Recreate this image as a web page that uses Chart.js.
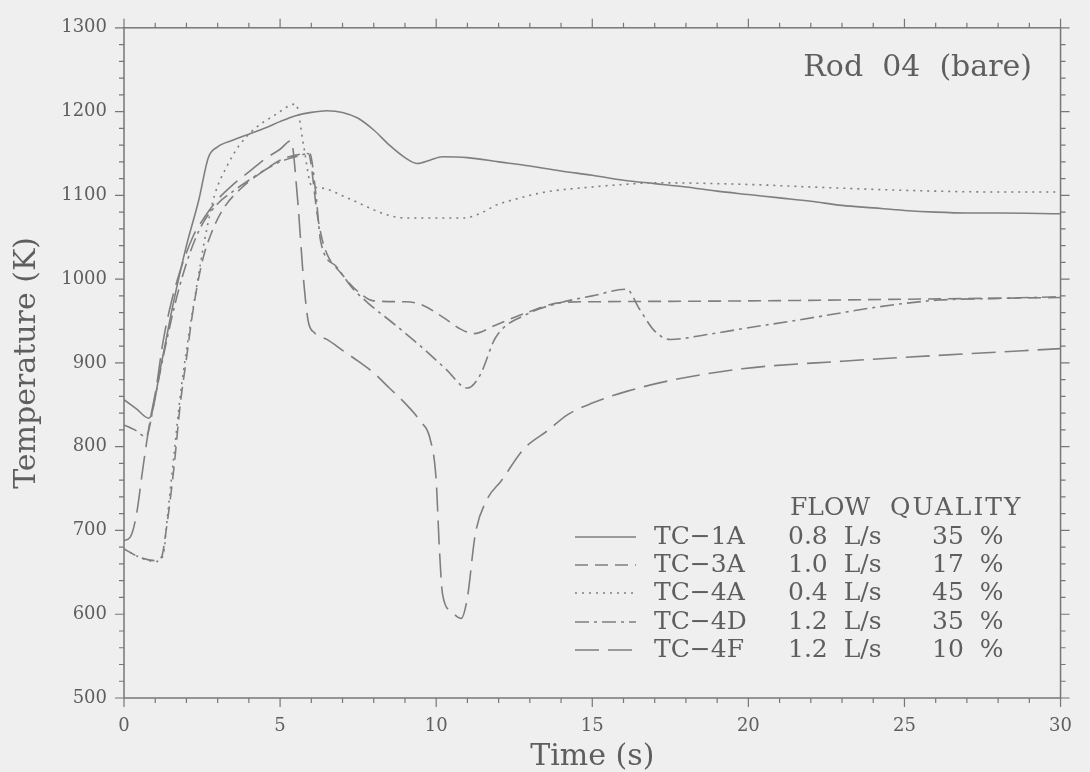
<!DOCTYPE html>
<html>
<head>
<meta charset="utf-8">
<script src="https://cdn.jsdelivr.net/npm/chart.js@4/dist/chart.umd.min.js"></script>
<style>
  html, body { margin: 0; padding: 0; background: #efefef; }
  #wrap { width: 1090px; height: 772px; }
</style>
</head>
<body>
<div id="wrap"><canvas id="chart" width="1090" height="772"></canvas></div>
<script>
// series data: time (s) and temperature (K)
const names = ['TC\u22121A', 'TC\u22123A', 'TC\u22124A', 'TC\u22124D', 'TC\u22124F'];
const flows = ['0.8  L/s', '1.0  L/s', '0.4  L/s', '1.2  L/s', '1.2  L/s'];
const qualities = ['35  %', '17  %', '45  %', '35  %', '10  %'];

const tc1aTime = [0, 0.4, 0.8, 1.2, 1.6, 2.0, 2.4, 2.7, 3.0, 3.5, 4.0, 4.5, 5.0, 5.5, 6.0, 6.5, 7.0, 7.5, 8.0, 8.5, 9.0, 9.4, 9.8, 10.2, 11, 12, 13, 14, 15, 16, 17, 18, 19, 20, 21, 22, 23, 24, 25, 26, 27, 28, 30];
const tc1aTemp = [856, 845, 834, 900, 975, 1040, 1095, 1145, 1158, 1166, 1173, 1180, 1188, 1195, 1199, 1201, 1199, 1192, 1178, 1160, 1145, 1138, 1142, 1146, 1145, 1140, 1135, 1129, 1124, 1118, 1114, 1110, 1105, 1101, 1097, 1093, 1088, 1085, 1082, 1080, 1079, 1079, 1078];

const tc3aTime = [0, 0.5, 1.0, 1.2, 1.35, 1.6, 1.8, 2.0, 2.2, 2.5, 2.8, 3.2, 3.8, 4.5, 5.0, 5.5, 5.9, 6.2, 6.4, 7.0, 7.5, 8.0, 9.0, 9.5, 10.2, 10.8, 11.2, 11.9, 12.9, 14, 15, 20, 25, 30];
const tc3aTemp = [678, 668, 664, 668, 700, 775, 850, 905, 960, 1020, 1055, 1085, 1110, 1130, 1142, 1148, 1150, 1075, 1040, 1005, 985, 974, 973, 970, 955, 940, 935, 945, 960, 972, 973, 974, 976, 978];

const tc4aTime = [0, 0.5, 1.0, 1.25, 1.4, 1.6, 1.8, 2.0, 2.3, 2.6, 2.9, 3.3, 3.7, 4.2, 4.8, 5.5, 5.75, 6.0, 6.3, 7.15, 8.4, 9.0, 9.8, 10.9, 11.5, 11.9, 12.7, 13.5, 15, 16, 17, 20, 22, 25, 28, 30];
const tc4aTemp = [678, 668, 663, 670, 720, 790, 860, 915, 985, 1050, 1100, 1135, 1160, 1180, 1195, 1209, 1160, 1112, 1109, 1097, 1077, 1073, 1073, 1073, 1080, 1088, 1097, 1104, 1110, 1113, 1115, 1113, 1110, 1106, 1104, 1104];

const tc4dTime = [0, 0.35, 0.7, 1.0, 1.3, 1.7, 2.1, 2.5, 3.0, 3.5, 4.0, 4.5, 5.0, 5.5, 5.95, 6.15, 6.3, 6.8, 7.3, 7.8, 8.7, 9.5, 10.3, 11.0, 11.4, 11.9, 12.9, 14.0, 15.0, 16.1, 16.5, 17.0, 17.5, 18.7, 20, 21.4, 22.7, 24, 25, 26.1, 28, 30];
const tc4dTemp = [826, 820, 812, 860, 915, 980, 1030, 1065, 1090, 1105, 1118, 1130, 1140, 1146, 1150, 1100, 1045, 1015, 990, 972, 945, 920, 893, 870, 885, 930, 958, 972, 980, 988, 965, 938, 928, 934, 942, 950, 958, 966, 971, 975, 977, 979];

const tc4fTime = [0, 0.2, 0.4, 0.6, 0.82, 1.04, 1.24, 1.5, 1.8, 2.2, 2.6, 3.0, 3.5, 4.0, 4.5, 5.0, 5.35, 5.55, 5.75, 5.9, 6.1, 6.5, 7.0, 7.5, 8.0, 8.5, 9.0, 9.5, 9.8, 10.0, 10.1, 10.2, 10.5, 10.8, 11.0, 11.25, 11.6, 12.1, 12.8, 13.6, 14.2, 15, 16.1, 17.5, 19.8, 23, 26.1, 30];
const tc4fTemp = [688, 692, 719, 773, 828, 872, 923, 970, 1010, 1050, 1075, 1095, 1113, 1128, 1143, 1155, 1165, 1100, 1000, 950, 936, 928, 915, 902, 888, 870, 852, 830, 810, 760, 680, 625, 603, 595, 620, 695, 735, 760, 797, 820, 838, 852, 866, 879, 893, 902, 909, 917];

const xTicksMajor = [0, 5, 10, 15, 20, 25, 30];
const yTicksMajor = [500, 600, 700, 800, 900, 1000, 1100, 1200, 1300];

const series = [
  { t: tc1aTime, v: tc1aTemp, dash: [] },
  { t: tc3aTime, v: tc3aTemp, dash: [13, 7] },
  { t: tc4aTime, v: tc4aTemp, dash: [2, 5] },
  { t: tc4dTime, v: tc4dTemp, dash: [14, 5, 3, 5] },
  { t: tc4fTime, v: tc4fTemp, dash: [24, 9] }
];

const lineColor = '#7f7f7f';
const textColor = '#5e5e5e';
const serif = "'DejaVu Serif', serif";

const datasets = series.map((s, i) => ({
  label: names[i],
  data: s.t.map((t, k) => ({ x: t, y: s.v[k] })),
  borderColor: lineColor,
  borderWidth: 1.6,
  borderDash: s.dash,
  pointRadius: 0,
  fill: false,
  cubicInterpolationMode: 'monotone'
}));

// background, frame with outward ticks, annotation and legend
const decor = {
  id: 'decor',
  beforeDraw(chart) {
    const ctx = chart.ctx;
    ctx.save();
    ctx.fillStyle = '#efefef';
    ctx.fillRect(0, 0, chart.width, chart.height);
    ctx.restore();
  },
  afterDatasetsDraw(chart) {
    const { ctx, chartArea: a, scales: { x, y } } = chart;
    ctx.save();
    ctx.strokeStyle = '#777';
    ctx.lineWidth = 1.5;
    ctx.strokeRect(a.left, a.top, a.right - a.left, a.bottom - a.top);
    ctx.lineWidth = 1.2;
    ctx.beginPath();
    for (let t = 0; t <= 30; t++) {
      const px = x.getPixelForValue(t);
      const len = t % 5 === 0 ? 9 : 5;
      ctx.moveTo(px, a.bottom); ctx.lineTo(px, a.bottom + len);
      ctx.moveTo(px, a.top); ctx.lineTo(px, a.top - len);
    }
    for (let v = 500; v <= 1300; v += 20) {
      const py = y.getPixelForValue(v);
      const len = v % 100 === 0 ? 9 : 5;
      ctx.moveTo(a.left, py); ctx.lineTo(a.left - len, py);
      ctx.moveTo(a.right, py); ctx.lineTo(a.right + len, py);
    }
    ctx.stroke();

    ctx.fillStyle = textColor;
    ctx.font = '30px ' + serif;
    ctx.textAlign = 'right';
    ctx.textBaseline = 'middle';
    ctx.fillText('Rod  04  (bare)', 1032, 68);

    // legend
    ctx.font = '25px ' + serif;
    ctx.textAlign = 'left';
    ctx.fillText('FLOW', 790, 508);
    ctx.letterSpacing = '2px';
    ctx.fillText('QUALITY', 890, 508);
    ctx.letterSpacing = '0px';
    const rowY = [537, 565, 593, 622, 650];
    chart.data.datasets.forEach((ds, i) => {
      const yy = rowY[i];
      ctx.strokeStyle = lineColor;
      ctx.lineWidth = 1.6;
      ctx.setLineDash(ds.borderDash);
      ctx.beginPath();
      ctx.moveTo(575, yy); ctx.lineTo(636, yy);
      ctx.stroke();
      ctx.setLineDash([]);
      ctx.fillText(names[i], 654, yy);
      ctx.fillText(flows[i], 788, yy);
      ctx.fillText(qualities[i], 932, yy);
    });
    ctx.restore();
  }
};

new Chart(document.getElementById('chart'), {
  type: 'line',
  data: { datasets },
  plugins: [decor],
  options: {
    responsive: false,
    animation: false,
    layout: { padding: { top: 21, right: 17, left: 0, bottom: 0 } },
    plugins: { legend: { display: false }, tooltip: { enabled: false } },
    scales: {
      x: {
        type: 'linear',
        min: 0, max: 30,
        afterFit(scale) { scale.height = 74; },
        afterBuildTicks(scale) { scale.ticks = xTicksMajor.map(v => ({ value: v })); },
        grid: { display: false, drawTicks: false },
        border: { display: false },
        ticks: { padding: 18, color: textColor, font: { family: serif, size: 18 }, maxRotation: 0, callback: v => String(v) },
        title: { display: true, text: 'Time (s)', color: textColor, font: { family: serif, size: 30, lineHeight: 1 }, padding: { top: 0, bottom: 0 } }
      },
      y: {
        type: 'linear',
        min: 500, max: 1300,
        afterFit(scale) { scale.width = 124; },
        afterBuildTicks(scale) { scale.ticks = yTicksMajor.map(v => ({ value: v })); },
        grid: { display: false, drawTicks: false },
        border: { display: false },
        ticks: { padding: 17, color: textColor, font: { family: serif, size: 18 }, callback: v => String(v) },
        title: { display: true, text: 'Temperature (K)', color: textColor, font: { family: serif, size: 30, lineHeight: 1 }, padding: { top: 12, bottom: 0 } }
      }
    }
  }
});
</script>
</body>
</html>
